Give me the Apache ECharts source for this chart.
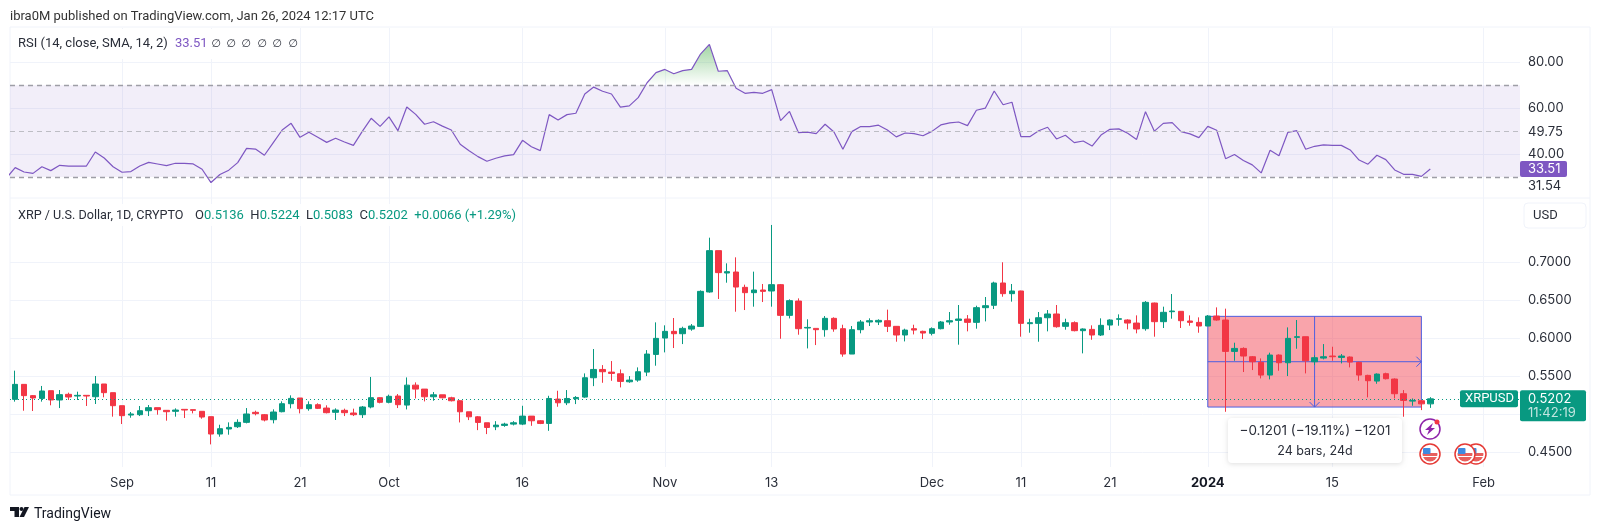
<!DOCTYPE html>
<html>
<head>
<meta charset="utf-8">
<script src="https://cdn.jsdelivr.net/npm/echarts@6/dist/echarts.min.js"></script>
<style>
html, body { margin: 0; background: #fff; }
#chart { width: 1600px; height: 530px; }
</style>
</head>
<body>
<div id="chart"></div>
<script>
// day index 0 is the first candle, Aug 20 2023
const opens = [
  .5195,.5392,.5244,.5208,.5309,.5187,.5261,.5239,.5248,.5230,
  .5397,.5283,.5112,.4989,.4994,.5046,.5086,.5051,.5038,.5064,
  .5060,.5038,.4968,.4740,.4806,.4836,.4893,.5025,.4994,.4928,
  .5033,.5138,.5213,.5073,.5125,.5081,.5025,.5051,.5016,.4994,
  .5095,.5217,.5156,.5239,.5120,.5382,.5330,.5229,.5255,.5216,
  .5177,.5032,.4966,.4888,.4835,.4853,.4870,.4870,.4975,.4914,
  .4879,.5199,.5150,.5203,.5225,.5479,.5588,.5553,.5531,.5426,
  .5448,.5553,.5785,.6000,.6088,.6057,.6118,.6153,.6605,.7148,
  .6854,.6867,.6666,.6596,.6631,.6618,.6701,.6298,.6486,.6132,
  .6127,.6110,.6259,.6123,.5790,.6110,.6211,.6211,.6228,.6154,
  .6040,.6123,.6088,.6062,.6123,.6211,.6232,.6250,.6206,.6399,
  .6430,.6723,.6583,.6618,.6189,.6193,.6267,.6316,.6154,.6202,
  .6097,.6114,.6040,.6171,.6246,.6237,.6197,.6123,.6460,.6215,
  .6346,.6351,.6224,.6206,.6158,.6289,.6237,.5825,.5864,.5755,
  .5681,.5514,.5777,.5676,.6009,.6018,.5689,.5737,.5764,.5746,
  .5751,.5681,.5510,.5435,.5532,.5462,.5269,.5172,.5177,.5136
];
const closes = [
  .5392,.5244,.5213,.5305,.5187,.5257,.5226,.5248,.5239,.5397,
  .5283,.5112,.4981,.5003,.5046,.5086,.5060,.5033,.5055,.5055,
  .5051,.4963,.4740,.4810,.4827,.4893,.5003,.5007,.4924,.5029,
  .5138,.5208,.5073,.5125,.5077,.5020,.5055,.5020,.4994,.5095,
  .5217,.5156,.5235,.5125,.5382,.5330,.5229,.5255,.5216,.5177,
  .5032,.4966,.4892,.4826,.4857,.4870,.4888,.4975,.4914,.4879,
  .5207,.5150,.5207,.5220,.5479,.5588,.5558,.5536,.5431,.5448,
  .5558,.5790,.5996,.6088,.6057,.6127,.6158,.6613,.7148,.6859,
  .6872,.6670,.6596,.6631,.6613,.6701,.6298,.6491,.6123,.6140,
  .6110,.6259,.6119,.5790,.6110,.6211,.6228,.6232,.6154,.6040,
  .6105,.6105,.6066,.6123,.6211,.6228,.6250,.6206,.6399,.6425,
  .6723,.6583,.6618,.6193,.6202,.6267,.6316,.6149,.6202,.6097,
  .6119,.6040,.6167,.6237,.6254,.6197,.6119,.6469,.6215,.6338,
  .6355,.6228,.6206,.6158,.6289,.6237,.5825,.5864,.5764,.5689,
  .5514,.5777,.5676,.5996,.6018,.5702,.5742,.5755,.5755,.5764,
  .5685,.5514,.5440,.5527,.5466,.5269,.5181,.5181,.5136,.5202
];
const highs = [
  .5572,.5392,.5252,.5371,.5309,.5318,.5283,.5296,.5248,.5502,
  .5397,.5283,.5112,.5029,.5108,.5121,.5086,.5051,.5077,.5064,
  .5060,.5038,.4968,.4862,.4893,.4933,.5081,.5046,.5003,.5064,
  .5169,.5248,.5213,.5169,.5143,.5117,.5077,.5073,.5073,.5108,
  .5489,.5222,.5257,.5265,.5483,.5418,.5330,.5291,.5255,.5229,
  .5185,.5032,.4975,.4888,.4909,.4888,.4909,.5111,.4975,.4923,
  .5242,.5308,.5317,.5238,.5536,.5856,.5645,.5698,.5588,.5501,
  .5615,.5842,.6206,.6167,.6263,.6149,.6184,.6626,.7318,.7148,
  .6981,.7060,.6701,.6872,.6710,.7485,.6710,.6508,.6521,.6246,
  .6127,.6289,.6272,.6175,.6158,.6237,.6259,.6246,.6373,.6158,
  .6123,.6175,.6097,.6140,.6224,.6342,.6434,.6302,.6425,.6539,
  .6740,.6995,.6710,.6622,.6254,.6342,.6368,.6434,.6254,.6219,
  .6127,.6167,.6259,.6246,.6311,.6246,.6298,.6486,.6465,.6412,
  .6578,.6355,.6298,.6272,.6302,.6403,.6386,.5939,.5878,.5764,
  .5733,.5808,.5786,.6140,.6237,.6018,.5773,.5921,.5886,.5790,
  .5759,.5689,.5518,.5536,.5545,.5470,.5317,.5207,.5186,.5224
];
const lows = [
  .5165,.5046,.5042,.5165,.5117,.5081,.5187,.5187,.5108,.5134,
  .5222,.4968,.4871,.4954,.4976,.4976,.4994,.4915,.4968,.4950,
  .5011,.4941,.4604,.4705,.4731,.4819,.4880,.4985,.4906,.4880,
  .5025,.5077,.5011,.5046,.5068,.5011,.4924,.4976,.4976,.4950,
  .5077,.5143,.5143,.5081,.5063,.5207,.5168,.5177,.5207,.5168,
  .4892,.4923,.4791,.4739,.4791,.4835,.4853,.4857,.4848,.4870,
  .4782,.5098,.5120,.5133,.5216,.5369,.5413,.5439,.5352,.5413,
  .5426,.5501,.5637,.5812,.5869,.5921,.6096,.6149,.6596,.6513,
  .6727,.6346,.6368,.6412,.6473,.6412,.5991,.6258,.6044,.5864,
  .5908,.6018,.6083,.5755,.5790,.6062,.6158,.6171,.6079,.5952,
  .5956,.6048,.5987,.6035,.6114,.6175,.5913,.6088,.6123,.6219,
  .6381,.6543,.6478,.6018,.6070,.5952,.6088,.6136,.6110,.6088,
  .5799,.5978,.6027,.6105,.6162,.6114,.6062,.6097,.6018,.6132,
  .6254,.6132,.6162,.6070,.6158,.6228,.5032,.5702,.5554,.5580,
  .5470,.5457,.5571,.5501,.5860,.5536,.5645,.5720,.5702,.5667,
  .5615,.5440,.5221,.5400,.5457,.5207,.4967,.5111,.5054,.5083
];
// rsi starts one day before the first candle, the line runs in from the left edge
const rsiValues = [
  29.5,34.1,32.2,31.6,34.5,32.8,35.1,34.8,34.8,34.8,40.9,38.3,34.5,32.1,32.4,34.8,36.4,35.7,35.0,36.0,
  36.0,35.7,33.4,27.6,31.1,33.0,36.3,42.5,42.2,39.5,45.0,50.5,53.4,47.3,49.5,47.3,45.1,46.9,45.3,43.8,
  49.9,55.6,52.1,56.2,50.2,60.5,57.3,53.0,54.1,52.2,50.5,44.3,41.5,38.9,36.9,38.2,39.2,39.8,46.0,43.2,
  41.5,57.2,54.9,57.2,57.8,66.2,69.2,67.4,66.2,60.5,61.0,64.6,71.1,75.5,76.9,75.0,76.4,76.9,83.6,87.8,
  76.1,76.4,68.7,66.5,66.9,66.5,68.1,54.6,58.6,49.4,49.6,48.9,53.0,49.6,42.1,49.8,52.0,52.0,52.6,50.5,
  47.5,49.2,48.9,48.0,49.9,52.7,53.6,54.0,52.4,59.1,60.0,67.5,61.5,62.6,47.6,47.6,50.2,51.7,46.6,48.2,
  45.0,45.7,43.5,48.3,50.8,51.0,49.1,46.4,58.5,50.0,53.4,53.7,49.8,48.8,47.2,52.1,50.4,38.0,39.8,37.2,
  35.3,31.8,41.7,39.3,49.5,50.2,42.1,43.4,44.0,43.8,43.8,41.8,37.4,35.6,39.5,37.6,33.1,31.2,31.2,30.3,33.51
];
const dayTicks = [12, 22, 32, 42, 57, 73, 85, 103, 113, 123, 134, 148, 165];
const dayLabels = ['Sep', '11', '21', 'Oct', '16', 'Nov', '13', 'Dec', '11', '21', '2024', '15', 'Feb'];
const priceGrid = [0.45, 0.5, 0.55, 0.6, 0.65, 0.7];
const priceLabels = [0.45, 0.55, 0.6, 0.65, 0.7];
const rsiGrid = [40, 60, 80];
const rsiLabelValues = [80, 60, 49.75, 40, 26.1]; // 31.54 tag is pushed below the 30 line
const rsiLabelTexts = ['80.00', '60.00', '49.75', '40.00', '31.54'];
const rsiLevels = [70, 49.75, 30];
const lastPrice = 0.5202;
const lastRsi = 33.51;
const measureDays = [134, 158];
const measurePrices = [0.6285, 0.5094];

const UP = '#089981', DOWN = '#F23645', INK = '#2a2e39', PURPLE = '#7E57C2', LINE = '#f0f3fa';
const FONT = 'Inter, "Noto Sans", sans-serif';
const NARROW = 'Roboto, "Noto Sans", sans-serif';

let candles = opens.map((o, i) => [i, o, closes[i], lows[i], highs[i]]);
let rsiLine = rsiValues.map((v, i) => [i - 1, v]);

// only the part above 70 gets the green fill
let overbought = [];
rsiLine.forEach((p, i) => {
    let prev = rsiLine[i - 1];
    if (prev && (prev[1] - 70) * (p[1] - 70) < 0) {
        overbought.push([prev[0] + (70 - prev[1]) / (p[1] - prev[1]), 70]);
    }
    if (p[1] > 70) overbought.push(p);
});

let chart = echarts.init(document.getElementById('chart'));

function dayAxis(gridIndex, showLabels) {
    return {
        type: 'value',
        gridIndex,
        min: -0.584,
        max: 169.08,
        axisLine: {show: false},
        axisTick: {show: false, customValues: dayTicks},
        splitLine: {show: true, lineStyle: {color: LINE, width: 1}},
        axisLabel: {
            show: showLabels,
            customValues: dayTicks,
            margin: 10,
            color: INK,
            fontFamily: FONT,
            fontSize: 13,
            formatter: v => {
                let t = dayLabels[dayTicks.indexOf(v)];
                return t === '2024' ? '{b|2024}' : t;
            },
            rich: {b: {fontWeight: 700, fontSize: 13, color: '#131722', fontFamily: FONT}}
        }
    };
}

let labelStyle = {color: INK, fontFamily: FONT, fontSize: 13, margin: 8};

chart.setOption({
    animation: false,
    backgroundColor: '#fff',
    grid: [
        {left: 10, right: 80, top: 28, height: 170},
        {left: 10, right: 80, top: 198, height: 269}
    ],
    xAxis: [dayAxis(0, false), dayAxis(1, true)],
    yAxis: [
        {
            type: 'value', gridIndex: 0, position: 'right', min: 20.87, max: 94.95,
            axisLine: {show: false},
            axisTick: {show: false, customValues: rsiGrid},
            splitLine: {show: true, lineStyle: {color: LINE}},
            axisLabel: {
                ...labelStyle,
                customValues: rsiLabelValues,
                formatter: v => rsiLabelTexts[rsiLabelValues.indexOf(v)]
            }
        },
        {
            type: 'value', gridIndex: 1, position: 'right', min: 0.4307, max: 0.7839,
            axisLine: {show: false},
            axisTick: {show: false, customValues: priceGrid},
            splitLine: {show: true, lineStyle: {color: LINE}},
            axisLabel: {
                ...labelStyle,
                customValues: priceLabels,
                formatter: v => v.toFixed(4)
            }
        }
    ],
    series: [
        {
            type: 'line', name: 'overbought', xAxisIndex: 0, yAxisIndex: 0, z: 2,
            data: overbought, showSymbol: false, lineStyle: {width: 0},
            areaStyle: {
                origin: 70,
                color: new echarts.graphic.LinearGradient(0, 0, 0, 1, [
                    {offset: 0, color: 'rgba(76,175,80,0.75)'},
                    {offset: 1, color: 'rgba(76,175,80,0)'}
                ])
            }
        },
        {
            type: 'line', name: 'RSI', xAxisIndex: 0, yAxisIndex: 0, z: 3,
            data: rsiLine, showSymbol: false,
            lineStyle: {color: PURPLE, width: 1.2},
            markArea: {
                silent: true,
                itemStyle: {color: 'rgba(126,87,194,0.1)'},
                data: [[{yAxis: rsiLevels[0]}, {yAxis: rsiLevels[2]}]]
            },
            markLine: {
                silent: true, symbol: 'none', label: {show: false},
                lineStyle: {color: '#9e9ea6', type: [5, 4], width: 1},
                data: rsiLevels.map(v => ({yAxis: v, lineStyle: v === 49.75 ? {color: '#bdbdc4', width: 1} : {width: 1.4}}))
            }
        },
        {
            // measure tool box, sits under the candles
            type: 'custom', name: 'measure', xAxisIndex: 1, yAxisIndex: 1, z: 1,
            data: [[measureDays[0], measureDays[1], measurePrices[0], measurePrices[1]]],
            encode: {x: [0, 1], y: [2, 3]},
            renderItem: (params, api) => {
                let a = api.coord([api.value(0), api.value(2)]);
                let b = api.coord([api.value(1), api.value(3)]);
                let mx = (a[0] + b[0]) / 2, my = (a[1] + b[1]) / 2;
                let blue = {stroke: '#4d5fe0', lineWidth: 1, fill: null};
                return {
                    type: 'group',
                    children: [
                        {type: 'rect', shape: {x: a[0], y: a[1], width: b[0] - a[0], height: b[1] - a[1]},
                            style: {fill: 'rgba(242,54,69,0.45)', stroke: '#4d5fe0', lineWidth: 1}},
                        {type: 'polyline', shape: {points: [[a[0], my], [b[0], my]]}, style: blue},
                        {type: 'polyline', shape: {points: [[mx, a[1]], [mx, b[1]]]}, style: blue},
                        {type: 'polyline', shape: {points: [[b[0] - 5, my - 5], [b[0], my], [b[0] - 5, my + 5]]}, style: blue},
                        {type: 'polyline', shape: {points: [[mx - 5, b[1] - 5], [mx, b[1]], [mx + 5, b[1] - 5]]}, style: blue}
                    ]
                };
            }
        },
        {
            type: 'candlestick', name: 'XRPUSD', xAxisIndex: 1, yAxisIndex: 1, z: 2,
            data: candles,
            encode: {x: 0, y: [1, 2, 3, 4]},
            barWidth: 6,
            itemStyle: {color: UP, color0: DOWN, borderColor: UP, borderColor0: DOWN, borderWidth: 1},
            markLine: {
                silent: true, symbol: 'none', label: {show: false},
                lineStyle: {color: UP, type: [1, 3], width: 1},
                data: [{yAxis: lastPrice}]
            }
        }
    ]
});

// overlays, tag heights come from the scales
let priceY = chart.convertToPixel({yAxisIndex: 1}, lastPrice);
let rsiY = chart.convertToPixel({yAxisIndex: 0}, lastRsi);

function txt(x, y, text, extra) {
    return {type: 'text', x, y, z: 20, style: {text, fontFamily: FONT, fontSize: 13, fill: INK, verticalAlign: 'middle', ...extra}};
}
function box(x, y, w, h, fill, extra) {
    return {type: 'rect', z: 15, shape: {x, y, width: w, height: h, r: 2}, style: {fill, ...extra}};
}
function flag(cx, cy) {
    return {
        type: 'group', x: cx, y: cy, z: 18,
        children: [
            {type: 'circle', shape: {r: 10}, style: {fill: '#fff', stroke: '#e53935', lineWidth: 1.5}},
            {type: 'circle', shape: {r: 7.5}, style: {fill: new echarts.graphic.LinearGradient(0, 0, 0, 1, [
                {offset: 0, color: '#fff'}, {offset: 0.45, color: '#fff'},
                {offset: 0.45, color: '#e85f5c'}, {offset: 0.6, color: '#e85f5c'},
                {offset: 0.6, color: '#fff'}, {offset: 0.72, color: '#fff'},
                {offset: 0.72, color: '#e85f5c'}, {offset: 1, color: '#e85f5c'}
            ])}},
            {type: 'rect', shape: {x: -7, y: -6, width: 7.5, height: 6, r: 1}, style: {fill: '#3f8ae0'}}
        ]
    };
}

let graphics = [
    // frame
    {type: 'rect', z: 0, silent: true, shape: {x: 10, y: 27, width: 1580, height: 468}, style: {fill: null, stroke: LINE, lineWidth: 1}},
    {type: 'line', z: 0, silent: true, shape: {x1: 10, y1: 198, x2: 1590, y2: 198}, style: {stroke: LINE, lineWidth: 1}},

    txt(10, 17, 'ibra0M published on TradingView.com, Jan 26, 2024 12:17 UTC', {fill: '#333', fontFamily: NARROW}),

    // rsi legend
    box(11, 29, 288, 30, '#fff'),
    txt(18, 44, 'RSI (14, close, SMA, 14, 2)', {fontFamily: NARROW}),
    txt(175, 44, '33.51', {fill: PURPLE, fontFamily: NARROW}),

    // price legend
    box(11, 204, 510, 22, 'rgba(255,255,255,0.85)'),
    txt(18, 215.5, 'XRP / U.S. Dollar, 1D, CRYPTO', {fontFamily: NARROW, fontSize: 12.6}),
    txt(195, 215.5, '{k|O}{g|0.5136}  {k|H}{g|0.5224}  {k|L}{g|0.5083}  {k|C}{g|0.5202}  {g|+0.0066 (+1.29%)}', {
        fontFamily: NARROW,
        rich: {
            k: {fontFamily: NARROW, fontSize: 13, fill: INK},
            g: {fontFamily: NARROW, fontSize: 13, fill: UP}
        }
    }),

    // rsi tag
    box(1520, rsiY - 8, 47, 16, PURPLE),
    txt(1528, rsiY, lastRsi.toFixed(2), {fill: '#fff'}),

    // symbol and price tags
    box(1460, priceY - 8.5, 58, 17, UP),
    txt(1465, priceY, 'XRPUSD', {fill: '#fff', fontFamily: NARROW}),
    box(1520, priceY - 8.5, 66, 31, UP),
    txt(1528, priceY, lastPrice.toFixed(4), {fill: '#fff'}),
    txt(1528, priceY + 14, '11:42:19', {fill: 'rgba(255,255,255,0.75)'}),

    // usd button
    {type: 'rect', z: 15, shape: {x: 1524, y: 203, width: 62, height: 25, r: 4}, style: {fill: '#fff', stroke: LINE}},
    txt(1533, 216, 'USD', {fontFamily: NARROW}),

    // measure label
    {type: 'rect', z: 16, shape: {x: 1228, y: 418, width: 174, height: 45, r: 4},
        style: {fill: '#fff', shadowBlur: 5, shadowColor: 'rgba(0,0,0,0.13)', shadowOffsetY: 1}},
    txt(1315, 431, '\u22120.1201 (\u221219.11%) \u22121201', {align: 'center', fontSize: 13.5}),
    txt(1315, 451, '24 bars, 24d', {align: 'center', fontSize: 12.5}),

    // event icons
    {type: 'group', x: 1430, y: 429, z: 18, children: [
        {type: 'circle', shape: {r: 10}, style: {fill: '#fff', stroke: '#8e24aa', lineWidth: 1.5}},
        {type: 'polygon', shape: {points: [[3, -6], [-5, 1], [-1, 1], [-3, 6], [5, -1], [1, -1]]}, style: {fill: '#8e24aa'}},
        {type: 'circle', shape: {cx: 7, cy: -7, r: 2.5}, style: {fill: '#f23645'}}
    ]},
    flag(1476, 454),
    flag(1465, 454),
    flag(1430, 454),

    // logo
    {type: 'polygon', z: 20, shape: {points: [[10, 507], [19, 507], [19, 517], [14.5, 517], [14.5, 511], [10, 511]]}, style: {fill: '#131722'}},
    {type: 'circle', z: 20, shape: {cx: 21.5, cy: 509, r: 2}, style: {fill: '#131722'}},
    {type: 'polygon', z: 20, shape: {points: [[24.5, 507], [29, 507], [24, 517], [19.5, 517]]}, style: {fill: '#131722'}},
    txt(34, 514.5, 'TradingView', {fontSize: 14, fill: '#131722', fontFamily: NARROW})
];

// the six empty plot values of the rsi legend
[216, 231, 246, 262, 277, 293].forEach(x => {
    graphics.push(txt(x, 44, '\u2205', {align: 'center', fontFamily: '"DejaVu Sans"', fontSize: 11}));
});

chart.setOption({graphic: graphics});
</script>
</body>
</html>
